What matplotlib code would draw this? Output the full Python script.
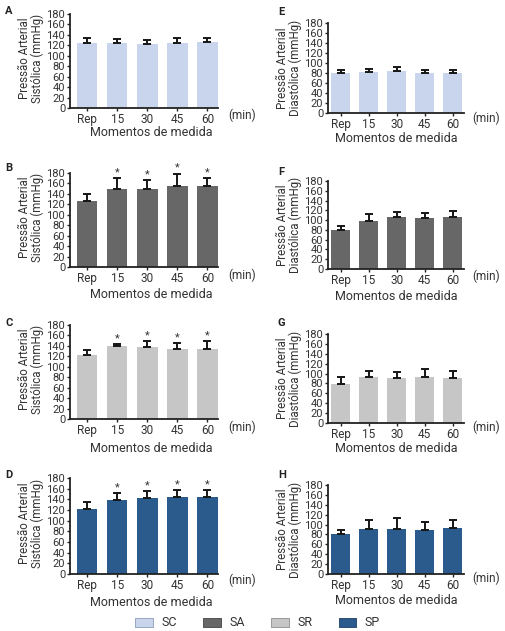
import matplotlib.pyplot as plt
from matplotlib.patches import Patch

# Categories (measurement moments)
cats = ['Rep', '15', '30', '45', '60']

# Systolic pressure (mean, upper SD) per group
sc_sys = [125, 124, 122, 125, 126]
sc_sys_sd = [10, 9, 8, 9, 9]
sa_sys = [127, 150, 150, 155, 155]
sa_sys_sd = [12, 21, 16, 24, 16]
sr_sys = [123, 139, 137, 135, 135]
sr_sys_sd = [9, 4, 12, 10, 14]
sp_sys = [122, 139, 142, 144, 144]
sp_sys_sd = [13, 12, 13, 13, 13]

# Diastolic pressure (mean, upper SD) per group
sc_dia = [81, 83, 85, 80, 81]
sc_dia_sd = [6, 6, 8, 7, 6]
sa_dia = [80, 98, 107, 105, 107]
sa_dia_sd = [7, 14, 9, 10, 12]
sr_dia = [79, 94, 92, 93, 92]
sr_dia_sd = [15, 12, 11, 16, 14]
sp_dia = [81, 92, 92, 89, 94]
sp_dia_sd = [9, 17, 21, 16, 15]

# significance markers
no_stars = [False] * 5
stars = [False, True, True, True, True]

groups = ['SC', 'SA', 'SR', 'SP']
colors = ['#c8d5ec', '#676767', '#c6c6c6', '#2b5a8c']
edges = ['#8d9cb8', '#444444', '#8e8e8e', '#1d3e62']

TEXT_COLOR = '#333333'
plt.rcParams['font.family'] = ['Roboto', 'DejaVu Sans']
plt.rcParams['text.color'] = TEXT_COLOR
plt.rcParams['xtick.color'] = '#222222'
plt.rcParams['ytick.color'] = '#222222'
plt.rcParams['xtick.labelcolor'] = TEXT_COLOR
plt.rcParams['ytick.labelcolor'] = TEXT_COLOR

W, H = 505, 631
fig = plt.figure(figsize=(W / 100, H / 100), dpi=100)

# column layout in pixels / axes fractions
left_col = dict(x0=70, x1=218, xlim=(-0.58, 4.35), width=0.67, ylab_x=-0.264, ylab_y=0.53,
                xlab_x=0.55, min_x=1.068, letter_x=5)
right_col = dict(x0=328, x1=464, xlim=(-0.46, 4.41), width=0.68, ylab_x=-0.287, ylab_y=0.5,
                 xlab_x=0.5, min_x=1.059, letter_x=278)

# letter, letter y px, column, top px, bottom px, values, sd, group, stars, label kind,
# xlabel offset, (min) offset
panels = [
    ('A', 11, left_col, 14, 108, sc_sys, sc_sys_sd, 0, no_stars, 'Sistólica', 25, 7),
    ('B', 168, left_col, 173, 267, sa_sys, sa_sys_sd, 1, stars, 'Sistólica', 28, 8),
    ('C', 323, left_col, 325, 419, sr_sys, sr_sys_sd, 2, stars, 'Sistólica', 30, 8),
    ('D', 475, left_col, 478, 574, sp_sys, sp_sys_sd, 3, stars, 'Sistólica', 28, 6),
    ('E', 12, right_col, 23, 113, sc_dia, sc_dia_sd, 0, no_stars, 'Diastólica', 26, 5),
    ('F', 172, right_col, 181, 269, sa_dia, sa_dia_sd, 1, no_stars, 'Diastólica', 27, 7),
    ('G', 323, right_col, 334, 423, sr_dia, sr_dia_sd, 2, no_stars, 'Diastólica', 25, 4),
    ('H', 475, right_col, 485, 574, sp_dia, sp_dia_sd, 3, no_stars, 'Diastólica', 26, 4),
]

for letter, letter_y, col, top, bottom, vals, sd, gi, star, kind, xlab_dy, min_dy in panels:
    ax = fig.add_axes([col['x0'] / W, 1 - bottom / H, (col['x1'] - col['x0']) / W, (bottom - top) / H])
    h_px = bottom - top
    x = list(range(len(cats)))
    ax.bar(x, vals, col['width'], color=colors[gi], zorder=2,
           yerr=[[0] * len(sd), sd],
           error_kw=dict(ecolor='#161616', elinewidth=1.4, capsize=2.9, capthick=1.4, zorder=3))
    for xi, v, s, st in zip(x, vals, sd, star):
        if st:
            ax.annotate('*', (xi, v + s), xytext=(0, 0.5), textcoords='offset points',
                        ha='center', va='bottom', fontsize=8, color=TEXT_COLOR, annotation_clip=False)

    ax.set_xlim(*col['xlim'])
    ax.set_ylim(0, 180)
    ax.set_yticks(range(0, 181, 20))
    ax.set_xticks(x)
    ax.set_xticklabels(cats)
    for sp in ['top', 'right']:
        ax.spines[sp].set_visible(False)
    for sp in ['left', 'bottom']:
        ax.spines[sp].set_linewidth(1.3)
        ax.spines[sp].set_color('#222222')
    ax.tick_params(axis='both', length=2.5, width=1, pad=1.2)
    ax.tick_params(axis='x', labelsize=8.5)
    ax.tick_params(axis='y', pad=1, labelsize=8)

    ax.text(col['ylab_x'], col['ylab_y'], 'Pressão Arterial\n' + kind + ' (mmHg)',
            rotation=90, ha='center', va='center', transform=ax.transAxes,
            linespacing=1.0, fontsize=8.3)
    ax.text(col['xlab_x'], -xlab_dy / h_px, 'Momentos de medida', ha='center', va='center',
            transform=ax.transAxes, fontsize=9)
    ax.text(col['min_x'], -min_dy / h_px, '(min)', ha='left', va='center',
            transform=ax.transAxes, fontsize=8.5)
    fig.text(col['letter_x'] / W, 1 - letter_y / H, letter, fontsize=8, fontweight='bold',
             ha='left', va='center', color='#222222')

handles = [Patch(facecolor=c, edgecolor=e, linewidth=0.6, label=g) for g, c, e in zip(groups, colors, edges)]
fig.legend(handles=handles, ncol=4, loc='center', bbox_to_anchor=(0.51, 1 - 623 / H),
           frameon=False, fontsize=9, handlelength=1.4, handleheight=0.7,
           handletextpad=0.7, columnspacing=2.1)

fig.savefig('out.png', dpi=100, facecolor='white')
